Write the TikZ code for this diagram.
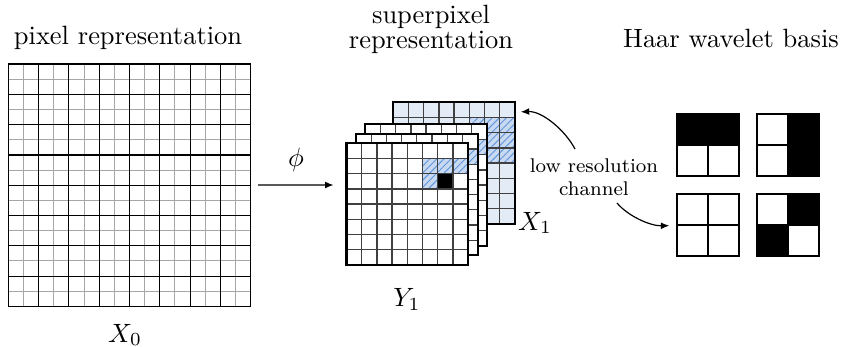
\documentclass[tikz,border=0pt]{standalone}
\usetikzlibrary{patterns.meta,arrows.meta}
\definecolor{lblue}{RGB}{227,235,247}
\definecolor{hfill}{RGB}{200,217,241}
\definecolor{hline}{RGB}{95,150,220}
\tikzset{
  title/.style={inner sep=0pt, font=\normalsize},
  lbl/.style={inner sep=0pt},
  biggray/.style={draw=black!35, line width=0.4pt},
  bigblack/.style={draw=black, line width=0.45pt},
  sgl/.style={draw=black!75, line width=0.5pt},
  sborder/.style={draw=black, line width=0.8pt},
  hatchpat/.style={pattern={Lines[angle=45,distance=1.9pt,line width=0.35pt]}, pattern color=hline},
  arr/.style={-{Latex[length=3.2pt,width=2.6pt]}, line width=0.45pt},
  hborder/.style={draw=black, line width=0.7pt},
}
% layer: #1 = fill colour, #2 = list of hatched cells c/r, #3 = black cell list
\newcommand\splayer[3]{%
  \fill[#1] (0,0) rectangle (121.6,121.6);
  \foreach \c/\r in {#2} {
    \fill[hfill] ({\c*15.2},{\r*15.2}) rectangle ++(15.2,15.2);
    \fill[hatchpat] ({\c*15.2},{\r*15.2}) rectangle ++(15.2,15.2);
  }
  \foreach \c/\r in {#3} {
    \fill[black] ({\c*15.2},{\r*15.2}) rectangle ++(15.2,15.2);
  }
  \foreach \k in {1,...,7} {
    \draw[sgl] ({\k*15.2},0) -- ({\k*15.2},121.6);
    \draw[sgl] (0,{\k*15.2}) -- (121.6,{\k*15.2});
  }
  \draw[sborder] (0,0) rectangle (121.6,121.6);
}
\begin{document}
\begin{tikzpicture}[x=0.378pt,y=-0.378pt]
\useasboundingbox (0,0) rectangle (844,347);

% titles
\node[title] (t1) at (128,38) {pixel representation};
\node[title, align=center, font=\fontsize{10}{9.6}\selectfont] (t2) at (431,29.5) {superpixel\\representation};
\node[title] (t3) at (731,38) {Haar wavelet basis};

% big pixel grid
\begin{scope}[shift={(8.3,64)}]
  \fill[white] (0,0) rectangle (242.4,242.4);
  \foreach \k in {1,3,...,15} {
    \draw[biggray] ({\k*15.15},0) -- ({\k*15.15},242.4);
    \draw[biggray] (0,{\k*15.15}) -- (242.4,{\k*15.15});
  }
  \foreach \k in {2,4,...,14} {
    \draw[bigblack] ({\k*15.15},0) -- ({\k*15.15},242.4);
    \draw[bigblack] (0,{\k*15.15}) -- (242.4,{\k*15.15});
  }
  \draw[bigblack] (0,0) rectangle (242.4,242.4);
  \coordinate (bigE) at (242.4,121);
\end{scope}
\node[lbl, anchor=base] (x0) at (125,342) {$X_0$};

% superpixel stack
\begin{scope}[shift={(393.3,102.3)}]
  \splayer{lblue}{5/1,6/1,7/1,5/2,6/2,7/2,5/3,6/3,7/3}{}
  \coordinate (blueE) at (121.6,9.8);
\end{scope}
\begin{scope}[shift={(365.3,124.3)}]
  \splayer{white}{5/1,6/1,7/1,5/2}{6/2}
\end{scope}
\begin{scope}[shift={(356,133.8)}]
  \splayer{white}{5/1,6/1,7/1,5/2}{6/2}
\end{scope}
\begin{scope}[shift={(346.5,143.3)}]
  \splayer{white}{5/1,6/1,7/1,5/2}{6/2}
  \coordinate (frontW) at (0,41.7);
\end{scope}
\node[lbl, anchor=base] (y1) at (407,306.5) {$Y_1$};
\node[lbl, anchor=base] (x1) at (535,230) {$X_1$};

% phi arrow
\node[lbl, anchor=base] (phi) at (296,166.5) {$\phi$};
\draw[arr, shorten <=2.8pt, shorten >=4.9pt] (bigE) -- (frontW);

% low resolution channel
\node[lbl, align=center, font=\fontsize{7.5}{8.5}\selectfont] (lrc) at (594,177) {low resolution\\channel};
\coordinate (lrcU) at (575,149);
\coordinate (lrcD) at (617,203);

% Haar squares
\begin{scope}[shift={(676.7,114.3)}]
  \fill[black] (0,0) rectangle (62,31);
  \draw[hborder] (31,31) -- (31,62) (0,31) -- (62,31);
  \draw[hborder] (0,0) rectangle (62,62);
\end{scope}
\begin{scope}[shift={(756.7,114.3)}]
  \fill[black] (31,0) rectangle (62,62);
  \draw[hborder] (0,31) -- (31,31) (31,0) -- (31,62);
  \draw[hborder] (0,0) rectangle (62,62);
\end{scope}
\begin{scope}[shift={(676.7,194.3)}]
  \draw[hborder] (31,0) -- (31,62) (0,31) -- (62,31);
  \draw[hborder] (0,0) rectangle (62,62);
  \coordinate (h3W) at (0,31.2);
\end{scope}
\begin{scope}[shift={(756.7,194.3)}]
  \fill[black] (31,0) rectangle (62,31);
  \fill[black] (0,31) rectangle (31,62);
  \draw[hborder] (31,0) -- (31,62) (0,31) -- (62,31);
  \draw[hborder] (0,0) rectangle (62,62);
\end{scope}

\draw[arr, shorten >=2.2pt] (lrcU) .. controls (565,130) and (542,111) .. (blueE);
\draw[arr, shorten >=2.8pt] (lrcD) .. controls (628,216) and (650,226) .. (h3W);
\end{tikzpicture}
\end{document}
